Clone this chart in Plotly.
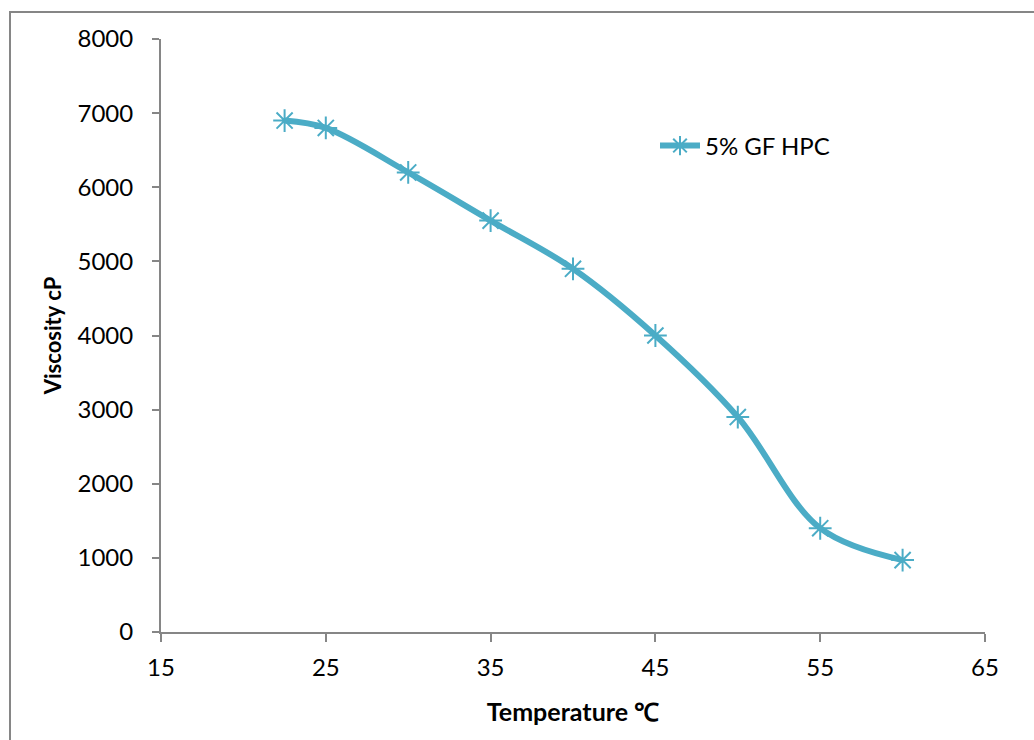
import plotly.graph_objects as go

temperature_c = [22.5, 25, 30, 35, 40, 45, 50, 55, 60]
viscosity_cp = [6900, 6800, 6200, 5550, 4900, 4000, 2900, 1400, 970]
series_name = "5% GF HPC"

COLOR = "#4BACC6"
AXIS = "#868686"
FONT = "Lato, Calibri, Carlito, sans-serif"

fig = go.Figure()
fig.add_trace(go.Scatter(
    x=temperature_c, y=viscosity_cp, name=series_name,
    mode="lines+markers",
    line=dict(color=COLOR, width=6, shape="spline", smoothing=1.0),
    marker=dict(symbol="asterisk-open", size=19, color=COLOR,
                line=dict(color=COLOR, width=2)),
))

W, H = 1034, 740
L, R, T, B = 161, 985, 39, 632
pw, ph = R - L, B - T

def px(x):
    return (x - L) / pw

def py(y):
    return (B - y) / ph

fig.update_layout(
    width=W, height=H,
    margin=dict(l=L, r=W - R, t=T, b=H - B, pad=0),
    paper_bgcolor="white", plot_bgcolor="white",
    font=dict(family=FONT, size=24, color="black"),
    showlegend=True,
    legend=dict(x=px(655), y=py(146), xanchor="left", yanchor="middle",
                bgcolor="rgba(0,0,0,0)", font=dict(size=24), itemwidth=40),
    xaxis=dict(range=[15, 65], dtick=10, tick0=15, showgrid=False, zeroline=False,
               showline=True, linecolor=AXIS, linewidth=2,
               ticks="outside", ticklen=8, tickwidth=2, tickcolor=AXIS,
               tickfont=dict(size=24), ticklabelstandoff=5,
               title=dict(text="<b>Temperature ℃</b>", font=dict(size=25), standoff=24)),
    yaxis=dict(range=[0, 8000], dtick=1000, showgrid=False, zeroline=False,
               showline=True, linecolor=AXIS, linewidth=2,
               ticks="outside", ticklen=7, tickwidth=2, tickcolor=AXIS,
               tickfont=dict(size=24), ticklabelstandoff=14,
               title=dict(text="<b>Viscosity cP</b>", font=dict(size=22), standoff=10)),
    shapes=[dict(type="rect", xref="paper", yref="paper",
                 x0=px(10), x1=px(1040), y0=py(746), y1=py(12),
                 line=dict(color=AXIS, width=2), fillcolor="rgba(0,0,0,0)", layer="below")],
)

fig.write_html("out.html")
